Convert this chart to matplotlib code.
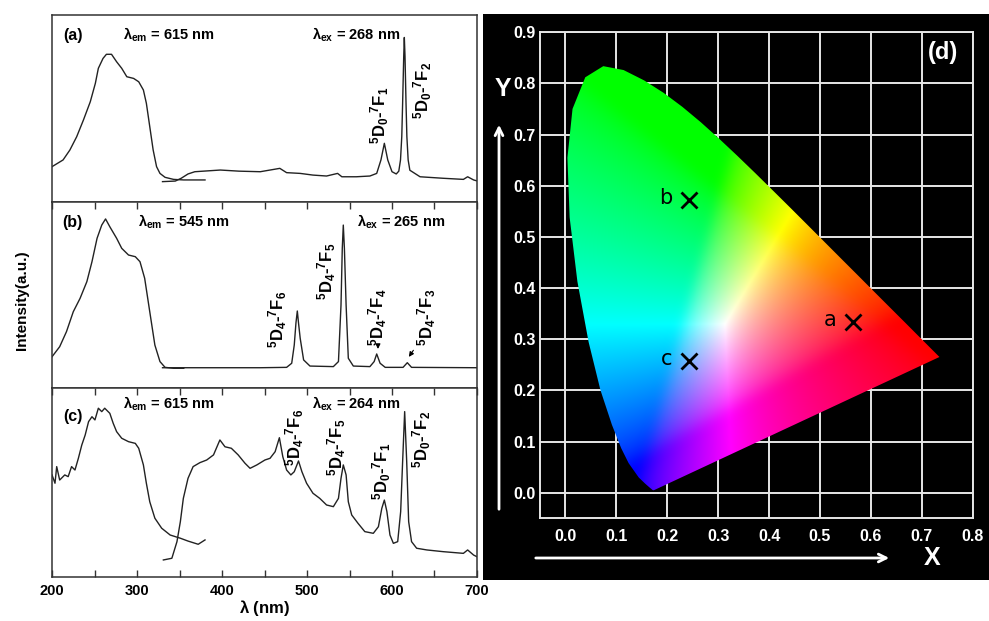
import numpy as np
import matplotlib
matplotlib.use("Agg")
import matplotlib.pyplot as plt
from matplotlib.patches import Polygon, Rectangle, FancyArrowPatch

plt.rcParams["font.family"] = ["Liberation Sans", "DejaVu Sans"]
plt.rcParams["mathtext.fontset"] = "custom"
plt.rcParams["mathtext.rm"] = "Liberation Sans:bold"
plt.rcParams["mathtext.it"] = "Liberation Sans:bold"
plt.rcParams["mathtext.bf"] = "Liberation Sans:bold"
plt.rcParams["mathtext.default"] = "rm"

# ---- spectra (wavelength in nm, intensity in a.u., 0-100 per panel) ----
a_ex_wl = [200, 213, 221, 229, 237, 245, 251, 254.5, 260, 264, 270, 276, 282, 288, 296,
           302, 307.5, 311, 315, 319, 323, 327, 333, 343, 355, 380]
a_ex_int = [18.9, 22.5, 27.8, 34.9, 43.9, 53.6, 63.5, 71.5, 76.8, 79.0, 79.0, 75.0, 71.5,
            67.0, 66.1, 64.3, 59.9, 52.8, 40.3, 27.8, 18.9, 15.3, 13.2, 12.1, 11.8, 11.8]
a_em_wl = [330, 345, 352, 360, 368, 398, 420, 445, 468, 476, 492, 507, 523, 536, 541, 558,
           574, 582, 587, 591, 595, 600, 605, 608, 610, 611.5, 612.5, 613.8, 614.5, 615.3,
           616.5, 617.5, 619, 621, 633, 660, 684, 689, 696, 700]
a_em_int = [10.9, 11.2, 12.7, 15.0, 16.2, 17.1, 16.5, 16.2, 18.0, 15.7, 15.3, 14.4, 13.9,
            15.3, 13.5, 13.5, 13.9, 15.3, 22.5, 31.4, 22.5, 16.2, 15.0, 16.5, 22.5, 35.0,
            52.8, 78.0, 88.0, 78.0, 52.8, 35.0, 22.5, 17.0, 13.5, 12.7, 12.1, 13.5, 11.8, 11.3]

b_ex_wl = [200, 209, 217, 225, 233, 241, 247, 253, 258.5, 263, 268, 276, 282, 290, 298,
           303.5, 309, 315, 321, 327, 333, 343, 355]
b_ex_int = [16.8, 22.2, 30.3, 41.0, 48.2, 57.2, 67.9, 80.5, 87.6, 90.9, 86.7, 80.5, 75.1,
            71.5, 70.6, 67.9, 59.0, 41.0, 23.1, 14.2, 11.1, 10.6, 10.6]
b_em_wl = [330, 445, 476, 482, 485, 487, 488.6, 490, 492, 496, 503.5, 531, 537, 540, 541.5,
           542.7, 544, 546, 548.6, 554.5, 574, 579, 582, 586, 592, 613, 618, 623, 700]
b_em_int = [10.9, 10.9, 11.1, 13.3, 23.1, 35.0, 41.4, 35.0, 26.7, 15.1, 11.8, 11.5, 14.2,
            44.6, 75.0, 87.6, 75.0, 44.6, 16.0, 11.8, 11.5, 14.2, 18.3, 13.3, 11.1, 11.1,
            13.6, 11.1, 10.9]

c_ex_wl = [200, 203.5, 205.5, 209, 215, 219, 223, 227, 231, 235, 239, 243, 247, 250.5, 254.5,
           258.5, 262, 268, 272, 276, 282, 290, 298, 302, 307.5, 311, 315, 321, 329, 339,
           351, 360, 372, 380]
c_ex_int = [54.0, 49.6, 58.4, 51.3, 54.0, 53.1, 58.4, 56.6, 62.8, 69.8, 75.1, 82.2, 84.8,
            83.1, 89.3, 87.5, 89.3, 86.6, 81.3, 76.9, 73.4, 71.6, 70.7, 68.1, 59.3, 49.6,
            39.8, 31.1, 25.8, 22.2, 20.5, 19.0, 17.3, 19.6]
c_em_wl = [331, 341, 347, 351, 354.5, 360, 366, 374, 382, 390, 397.5, 403.5, 411, 419, 427,
           433, 441, 450.5, 456.5, 462.5, 467.5, 471.5, 476, 481, 485, 490, 494, 499.5, 507,
           515, 523, 531, 537, 540, 542.7, 546, 548.6, 552.6, 560, 568, 578, 584, 588, 591,
           594, 597.6, 601.6, 606.7, 610.2, 612.5, 614.9, 617.3, 619.6, 623, 629, 641, 660,
           684, 689, 696, 700]
c_em_int = [9.0, 9.9, 18.7, 29.3, 41.6, 52.2, 58.4, 60.5, 61.9, 64.6, 72.5, 68.9, 68.1, 64.6,
            60.2, 57.5, 59.3, 61.9, 62.8, 66.3, 73.7, 63.7, 56.6, 54.0, 55.7, 61.4, 55.7,
            49.6, 44.3, 41.6, 38.1, 37.2, 41.6, 52.2, 59.3, 54.0, 39.8, 32.8, 28.4, 24.0,
            23.1, 26.6, 36.3, 40.7, 34.6, 22.2, 17.8, 18.7, 34.6, 61.0, 87.5, 61.0, 29.3,
            18.7, 15.2, 14.3, 13.4, 12.5, 14.3, 11.6, 10.7]

# ---- chromaticity ----
locus_x = [0.1741, 0.1733, 0.1714, 0.1644, 0.1566, 0.1440, 0.1241, 0.1096, 0.0913, 0.0687,
           0.0454, 0.0235, 0.0082, 0.0039, 0.0139, 0.0389, 0.0743, 0.1142, 0.1547, 0.1929,
           0.2296, 0.2658, 0.3016, 0.3373, 0.3731, 0.4087, 0.4441, 0.4788, 0.5125, 0.5448,
           0.5752, 0.6029, 0.6270, 0.6658, 0.6915, 0.7079, 0.7190, 0.7260, 0.7347]
locus_y = [0.0050, 0.0048, 0.0051, 0.0109, 0.0177, 0.0297, 0.0578, 0.0868, 0.1327, 0.2007,
           0.2950, 0.4127, 0.5384, 0.6548, 0.7502, 0.8120, 0.8338, 0.8262, 0.8059, 0.7816,
           0.7543, 0.7243, 0.6923, 0.6589, 0.6245, 0.5896, 0.5547, 0.5202, 0.4866, 0.4544,
           0.4242, 0.3965, 0.3725, 0.3340, 0.3083, 0.2920, 0.2809, 0.2740, 0.2653]
point_names = ["a", "b", "c"]
point_x = [0.565, 0.243, 0.243]
point_y = [0.334, 0.573, 0.257]

fig = plt.figure(figsize=(9.89, 6.21), dpi=100)

panels = [
    ("(a)", [0.0526, 0.6747, 0.4297, 0.3011], a_ex_wl, a_ex_int, a_em_wl, a_em_int,
     "615", "268", 89.3, 89.3,
     [(585.9, 46.5, r"$^{5}$D$_{0}$-$^{7}$F$_{1}$"), (636.5, 59.9, r"$^{5}$D$_{0}$-$^{7}$F$_{2}$")]),
    ("(b)", [0.0526, 0.3752, 0.4297, 0.2995], b_ex_wl, b_ex_int, b_em_wl, b_em_int,
     "545", "265", 89.2, 89.2,
     [(465.9, 36.6, r"$^{5}$D$_{4}$-$^{7}$F$_{6}$"), (523.5, 62.9, r"$^{5}$D$_{4}$-$^{7}$F$_{5}$"),
      (583.5, 38.2, r"$^{5}$D$_{4}$-$^{7}$F$_{4}$"), (641.2, 38.2, r"$^{5}$D$_{4}$-$^{7}$F$_{3}$")]),
    ("(c)", [0.0526, 0.0709, 0.4297, 0.3043], c_ex_wl, c_ex_int, c_em_wl, c_em_int,
     "615", "264", 84.7, 91.5,
     [(485.9, 74.1, r"$^{5}$D$_{4}$-$^{7}$F$_{6}$"), (535.3, 68.8, r"$^{5}$D$_{4}$-$^{7}$F$_{5}$"),
      (588.2, 56.1, r"$^{5}$D$_{0}$-$^{7}$F$_{1}$"), (635.3, 73.0, r"$^{5}$D$_{0}$-$^{7}$F$_{2}$")]),
]

axes = []
for i, (tag, pos, exw, exi, emw, emi, em, ex, ytag, ylam, peaks) in enumerate(panels):
    ax = fig.add_axes(pos)
    ax.plot(exw, exi, color="#222222", lw=1.0)
    ax.plot(emw, emi, color="#222222", lw=1.0)
    ax.set_xlim(200, 700)
    ax.set_ylim(0, 100)
    ax.set_yticks([])
    ax.set_xticks(np.arange(200, 701, 100))
    ax.set_xticks(np.arange(250, 700, 100), minor=True)
    for s in ax.spines.values():
        s.set_color("#333333")
        s.set_linewidth(1.1)
    ax.tick_params(which="both", direction="in", length=5, width=1, colors="#333333",
                   top=(i > 0), bottom=(i == 2), labelbottom=(i == 2))
    if i == 2:
        for lab in ax.get_xticklabels():
            lab.set_fontweight("bold")
            lab.set_fontsize(10.5)
            lab.set_color("black")
        ax.tick_params(pad=5)
    ax.text(224.5, ytag, tag, fontsize=11.5, fontweight="bold", ha="center", va="center")
    ax.text(283 if i != 1 else 301, ylam, r"$\lambda_{\rm em}$ = " + em + " nm",
            fontsize=10.5, fontweight="bold", va="center")
    ax.text(506 if i != 1 else 559, ylam, r"$\lambda_{\rm ex}$ = " + ex + " nm",
            fontsize=10.5, fontweight="bold", va="center")
    for (px, py, lab) in peaks:
        ax.text(px, py, lab, rotation=90, fontsize=12, fontweight="bold",
                ha="center", va="center")
    axes.append(ax)

# small arrows in panel (b)
axes[1].annotate("", xy=(583.5, 19.5), xytext=(583.5, 24),
                 arrowprops=dict(arrowstyle="-|>", color="black", lw=0.8, mutation_scale=7))
axes[1].annotate("", xy=(618, 15.5), xytext=(627, 21.5),
                 arrowprops=dict(arrowstyle="-|>", color="black", lw=0.8, mutation_scale=7))

fig.text(22 / 989, 1 - 300 / 621, "Intensity(a.u.)", rotation=90, fontsize=11,
         fontweight="bold", ha="center", va="center")
fig.text(265 / 989, 1 - 608 / 621, r"$\lambda$ (nm)", fontsize=12, fontweight="bold",
         ha="center", va="center")

# ---- right panel: CIE ----
fig.add_artist(Rectangle((483 / 989, 1 - 580 / 621), 1 - 483 / 989, 566 / 621,
                         transform=fig.transFigure, facecolor="black", edgecolor="none",
                         zorder=-1))
cx = fig.add_axes([0.546, 0.1654, 0.4375, 0.7826])
cx.set_facecolor("black")
cx.set_xticks(np.round(np.arange(0, 0.81, 0.1), 1))
cx.set_yticks(np.round(np.arange(0, 0.91, 0.1), 1))
cx.set_axisbelow(True)
cx.grid(color="#e6e6e6", lw=1.4)
for s in cx.spines.values():
    s.set_color("#e6e6e6")
    s.set_linewidth(1.4)
cond = ["Liberation Sans Narrow", "Liberation Sans"]
cx.tick_params(length=0, labelcolor="white", pad=3)
cx.tick_params(axis="x", pad=8)
for lab in cx.get_xticklabels() + cx.get_yticklabels():
    lab.set_family(cond)
    lab.set_fontweight("bold")
    lab.set_fontsize(11.5)

# colour field of the gamut
gx = np.linspace(-0.05, 0.8, 500)
gy = np.linspace(-0.02, 0.88, 500)
GX, GY = np.meshgrid(gx, gy)
GYc = np.maximum(GY, 2e-2)
XX = GX / GYc
ZZ = np.clip(1 - GX - GY, 0, None) / GYc
M = np.array([[3.2406, -1.5372, -0.4986], [-0.9689, 1.8758, 0.0415], [0.0557, -0.2040, 1.0570]])
lin = np.stack([M[k, 0] * XX + M[k, 1] + M[k, 2] * ZZ for k in range(3)], axis=-1)
lin = np.clip(lin, 0, None)
lin = lin / np.maximum(lin.max(axis=-1, keepdims=True), 1e-9)
lin = lin ** 1.3
rgb = np.where(lin <= 0.0031308, 12.92 * lin, 1.055 * lin ** (1 / 2.4) - 0.055)
k = np.exp(-0.5 * (np.arange(-18, 19) / 6.0) ** 2)
k /= k.sum()
for ch in range(3):
    rgb[..., ch] = np.apply_along_axis(lambda r: np.convolve(r, k, mode="same"), 0, rgb[..., ch])
    rgb[..., ch] = np.apply_along_axis(lambda r: np.convolve(r, k, mode="same"), 1, rgb[..., ch])
rgb = rgb / np.maximum(rgb.max(axis=-1, keepdims=True), 1e-9)
rgb = np.clip(rgb, 0, 1)
im = cx.imshow(rgb, origin="lower", extent=(-0.05, 0.8, -0.02, 0.88), aspect="auto",
               interpolation="bilinear", zorder=2)
poly = Polygon(np.column_stack([locus_x, locus_y]), closed=True, transform=cx.transData,
               facecolor="none", edgecolor="none")
cx.add_patch(poly)
im.set_clip_path(poly)
cx.set_xlim(-0.05, 0.8)
cx.set_ylim(-0.05, 0.9)

cx.plot(point_x, point_y, "x", color="black", ms=12, mew=2, zorder=4)
for n, px, py in zip(point_names, point_x, point_y):
    cx.text(px - 0.045, py + 0.004, n, fontsize=15, color="black", ha="center",
            va="center", zorder=4, family=["DejaVu Sans"])

fig.add_artist(FancyArrowPatch((499 / 989, 1 - 512 / 621), (499 / 989, 1 - 122 / 621),
                               transform=fig.transFigure, arrowstyle="->", color="white",
                               lw=2, mutation_scale=14))
fig.add_artist(FancyArrowPatch((533 / 989, 1 - 558 / 621), (892 / 989, 1 - 558 / 621),
                               transform=fig.transFigure, arrowstyle="->", color="white",
                               lw=2, mutation_scale=14))
fig.text(503 / 989, 1 - 89 / 621, "Y", color="white", fontsize=18, fontweight="bold",
         ha="center", va="center")
fig.text(932 / 989, 1 - 558 / 621, "X", color="white", fontsize=18, fontweight="bold",
         ha="center", va="center")
fig.text(943 / 989, 1 - 53 / 621, "(d)", color="white", fontsize=17, fontweight="bold",
         ha="center", va="center")

fig.savefig("out.png", dpi=100, facecolor="white")
